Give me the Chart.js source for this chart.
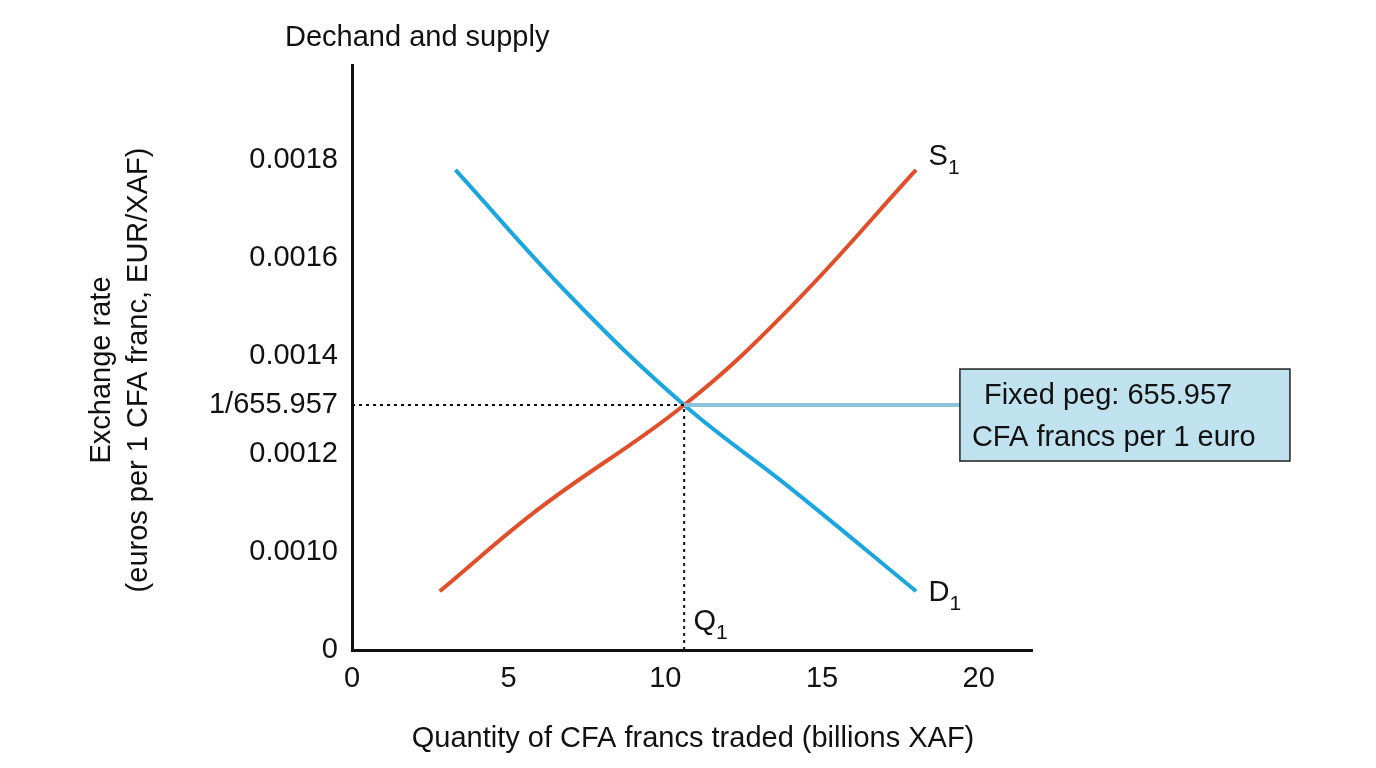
<!DOCTYPE html>
<html>
<head>
<meta charset="utf-8">
<script src="https://cdn.jsdelivr.net/npm/chart.js@4"></script>
<style>
  html, body { margin: 0; padding: 0; background: #fff; }
  #wrap { width: 1376px; height: 768px; }
</style>
</head>
<body>
<div id="wrap"><canvas id="myChart"></canvas></div>
<script>
// datos
const supplyX = [2.8, 6, 10.6, 14, 18];
const supplyY = [0.00092, 0.00109, 0.0013, 0.00150, 0.00178];
const demandX = [3.3, 7, 10.6, 14, 18];
const demandY = [0.00178, 0.00152, 0.0013, 0.00113, 0.00092];
const pegValue = 0.0013;
const eqQuantity = 10.6;
const pegEndX = 19.4;
const yTicks = [0.0008, 0.0010, 0.0012, 0.0013, 0.0014, 0.0016, 0.0018];
const yTickLabels = ['0', '0.0010', '0.0012', '1/655.957', '0.0014', '0.0016', '0.0018'];
const xTicks = [0, 5, 10, 15, 20];

(function () {
	const ctx = document.getElementById('myChart');
	const FONT = 'Liberation Sans, Arial, sans-serif';
	const pts = (xs, ys) => xs.map((x, i) => ({ x: x, y: ys[i] }));

	const labels = {
		id: 'labels',
		afterDatasetsDraw(chart) {
			const c = chart.ctx, x = chart.scales.x, y = chart.scales.y;
			c.save();
			c.fillStyle = '#111';
			c.textBaseline = 'alphabetic';
			function sub(txt, s, px, py) {
				c.font = '29px ' + FONT;
				c.fillText(txt, px, py);
				const w = c.measureText(txt).width;
				c.font = '21px ' + FONT;
				c.fillText(s, px + w, py + 9);
			}
			sub('S', '1', x.getPixelForValue(18.4), y.getPixelForValue(0.00179));
			sub('D', '1', x.getPixelForValue(18.4), y.getPixelForValue(0.00090));
			sub('Q', '1', x.getPixelForValue(10.9), y.getPixelForValue(0.00084));
			// titulos
			c.font = '29px ' + FONT;
			c.fillText('Dechand and supply', 285, 46);
			c.textAlign = 'center';
			c.fillText('Quantity of CFA francs traded (billions XAF)', 693, 747);
			c.save();
			c.translate(0, 370);
			c.rotate(-Math.PI / 2);
			c.fillText('Exchange rate', 0, 110);
			c.fillText('(euros per 1 CFA franc, EUR/XAF)', 0, 147);
			c.restore();
			c.textAlign = 'left';
			// caja del tipo fijo
			const bx = x.getPixelForValue(pegEndX), by = y.getPixelForValue(pegValue);
			c.fillStyle = '#bfe2ee';
			c.fillRect(bx, by - 36, 330, 92);
			c.strokeStyle = '#222';
			c.lineWidth = 1.5;
			c.strokeRect(bx, by - 36, 330, 92);
			c.fillStyle = '#111';
			c.font = '29px ' + FONT;
			c.fillText('Fixed peg: 655.957', bx + 24, by - 1);
			c.fillText('CFA francs per 1 euro', bx + 12, by + 41);
			c.restore();
		}
	};

	new Chart(ctx, {
		type: 'line',
		data: {
			datasets: [
				{ data: [{ x: eqQuantity, y: pegValue }, { x: pegEndX, y: pegValue }], borderColor: '#8cc3dd', borderWidth: 4, pointRadius: 0 },
				{ data: [{ x: 0, y: pegValue }, { x: eqQuantity, y: pegValue }], borderColor: '#111', borderWidth: 2, borderDash: [3, 4], pointRadius: 0 },
				{ data: [{ x: eqQuantity, y: 0.0008 }, { x: eqQuantity, y: pegValue }], borderColor: '#111', borderWidth: 2, borderDash: [3, 4], pointRadius: 0 },
				{ data: pts(supplyX, supplyY), borderColor: '#e04e2a', borderWidth: 4, pointRadius: 0, tension: 0.4 },
				{ data: pts(demandX, demandY), borderColor: '#1ba6e0', borderWidth: 4, pointRadius: 0, tension: 0.4 }
			]
		},
		options: {
			responsive: true,
			maintainAspectRatio: false,
			animation: false,
			layout: { padding: { top: 65, right: 344, left: 0, bottom: 0 } },
			plugins: { legend: { display: false }, tooltip: { enabled: false } },
			scales: {
				x: {
					type: 'linear', min: 0, max: 21.7,
					afterBuildTicks: s => { s.ticks = xTicks.map(v => ({ value: v })); },
					afterFit: s => { s.height = 118; },
					grid: { display: false, tickLength: 8 },
					border: { color: '#111', width: 3 },
					ticks: { color: '#111', font: { size: 29, family: FONT }, padding: 4 }
				},
				y: {
					type: 'linear', min: 0.0008, max: 0.001994,
					afterBuildTicks: s => { s.ticks = yTicks.map(v => ({ value: v })); },
					afterFit: s => { s.width = 352; },
					grid: { display: false, tickLength: 8 },
					border: { color: '#111', width: 3 },
					ticks: {
						color: '#111', font: { size: 29, family: FONT }, padding: 6,
						callback: (v, i) => yTickLabels[i]
					}
				}
			}
		},
		plugins: [labels]
	});
})();
</script>
</body>
</html>
